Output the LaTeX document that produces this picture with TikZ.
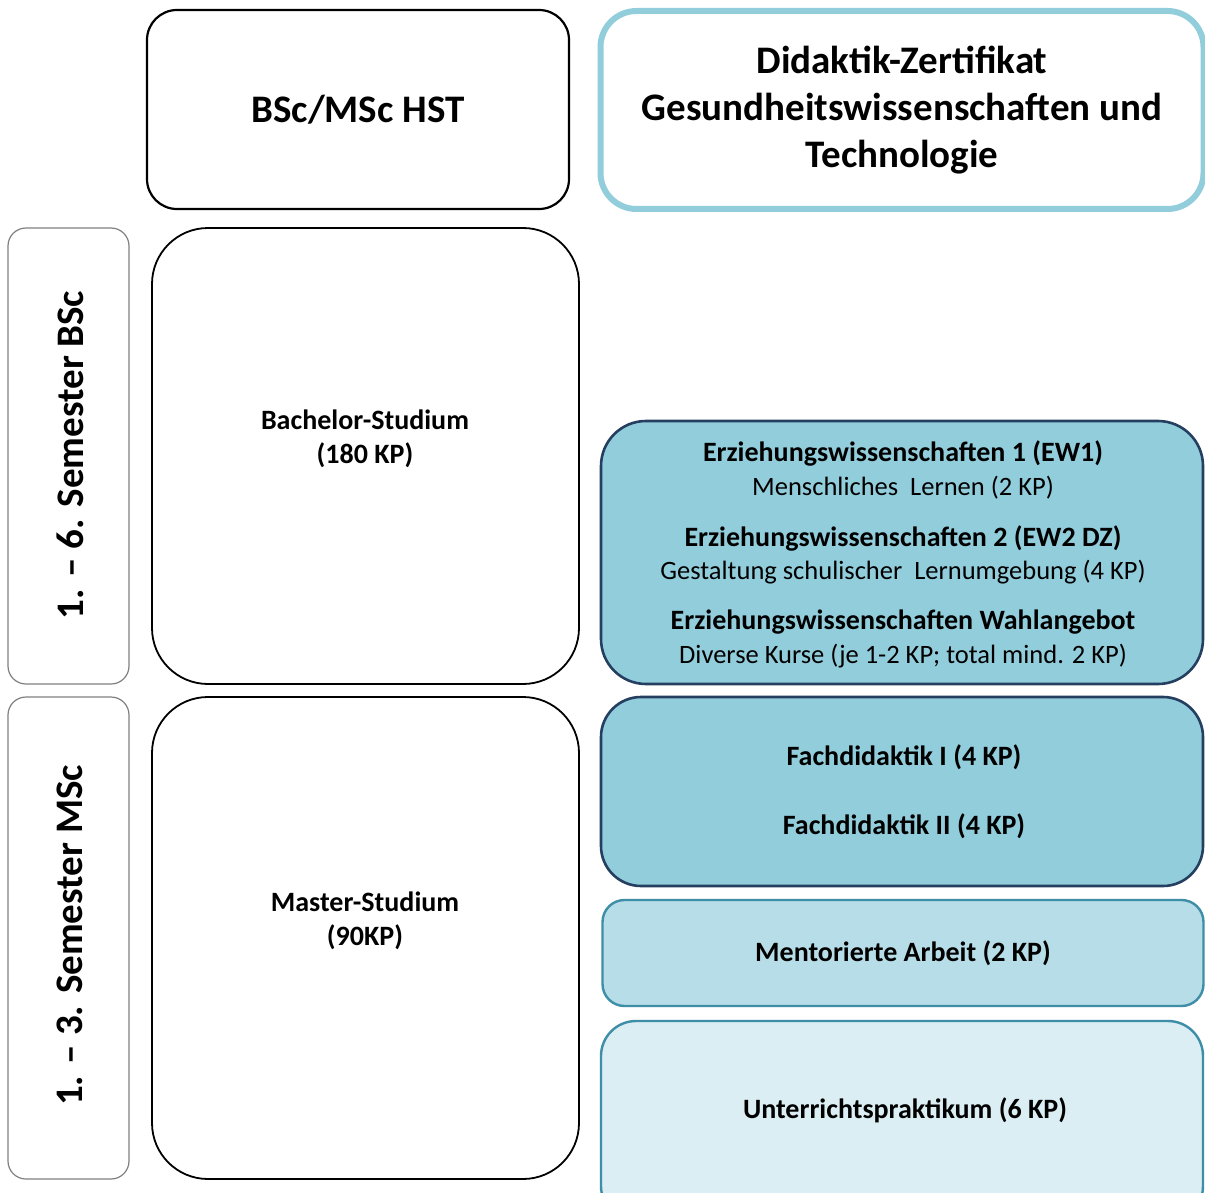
\documentclass[tikz,border=0pt]{standalone}
\usepackage{fontspec}
\setmainfont{Carlito}
\begin{document}
\begin{tikzpicture}[x=1pt,y=-1pt,
  box/.style={draw, rectangle, inner sep=0pt, outer sep=0pt, align=center},
  big/.style={font=\fontsize{39}{47}\selectfont\bfseries},
  mid/.style={font=\fontsize{28}{34}\selectfont\bfseries},
  reg/.style={font=\fontsize{26.5}{32}\selectfont},
  txt/.style={inner sep=0pt, align=center}
]
\definecolor{lightblue}{RGB}{146,205,220}
\definecolor{navy}{RGB}{36,63,96}
\definecolor{teal}{RGB}{62,142,168}
\definecolor{fillA}{RGB}{146,205,220}
\definecolor{fillB}{RGB}{183,222,232}
\definecolor{fillC}{RGB}{218,238,243}
\definecolor{semgray}{RGB}{128,128,128}
\useasboundingbox (0,0) rectangle (1205,1193);
\clip (0,0) rectangle (1205,1193);
\fill[white] (0,0) rectangle (1205,1193);

% header boxes
\node[box, line width=2.2pt, rounded corners=30pt, minimum width=422pt, minimum height=199pt, big] (hst) at (358,109.5) {BSc/MSc HST};
\node[box, draw=lightblue, line width=6pt, rounded corners=36pt, minimum width=603pt, minimum height=198pt] (dz) at (902,110) {};
\node[txt, big] (dzt) at (dz.center) {Didaktik-Zertifikat\\Gesundheitswissenschaften und\\Technologie};

% semester boxes
\node[box, draw=semgray, line width=1.2pt, rounded corners=18pt, minimum width=121pt, minimum height=456pt] (sem1) at (68.5,456) {};
\node[txt, big, rotate=90] (sem1t) at (70,455) {1. – 6. Semester BSc};
\node[box, draw=semgray, line width=1.2pt, rounded corners=18pt, minimum width=121pt, minimum height=482pt] (sem2) at (68.5,938) {};
\node[txt, big, rotate=90] (sem2t) at (70,935.5) {1. – 3. Semester MSc};

% study boxes
\node[box, line width=1.8pt, rounded corners=56pt, minimum width=427pt, minimum height=456pt] (bsc) at (365.5,456) {};
\node[txt, mid] (bsct) at (365,439) {Bachelor-Studium\\(180 KP)};
\node[box, line width=1.8pt, rounded corners=56pt, minimum width=427pt, minimum height=482pt] (msc) at (365.5,938) {};
\node[txt, mid] (msct) at (365,921) {Master-Studium\\(90KP)};

% EW box
\node[box, draw=navy, fill=fillA, line width=2.6pt, rounded corners=45pt, minimum width=602pt, minimum height=263pt] (ew) at (902,552.5) {};
\node[txt, mid] (ew1) at (903,453) {Erziehungswissenschaften 1 (EW1)};
\node[txt, reg] (ew1s) at (903,488) {Menschliches\ \ Lernen (2 KP)};
\node[txt, mid] (ew2) at (903,538) {Erziehungswissenschaften 2 (EW2 DZ)};
\node[txt, reg] (ew2s) at (903,572) {Gestaltung schulischer\ \ Lernumgebung (4 KP)};
\node[txt, mid] (ew3) at (903,622) {Erziehungswissenschaften Wahlangebot};
\node[txt, reg] (ew3s) at (903,656) {Diverse Kurse (je 1-2 KP; total mind. 2 KP)};

% Fachdidaktik
\node[box, draw=navy, fill=fillA, line width=2.6pt, rounded corners=40pt, minimum width=602pt, minimum height=189pt] (fd) at (902,791.5) {};
\node[txt, mid] (fd1) at (904,757) {Fachdidaktik I (4 KP)};
\node[txt, mid] (fd2) at (904,826) {Fachdidaktik II (4 KP)};

% Mentorierte Arbeit
\node[box, draw=teal, fill=fillB, line width=2.4pt, rounded corners=22pt, minimum width=601pt, minimum height=106pt, mid] (ma) at (903,953) {Mentorierte Arbeit (2 KP)};

% Unterrichtspraktikum
\node[box, draw=teal, fill=fillC, line width=2.4pt, rounded corners=35pt, minimum width=602pt, minimum height=200pt] (up) at (902,1121) {};
\node[txt, mid] (upt) at (905,1110) {Unterrichtspraktikum (6 KP)};
\end{tikzpicture}
\end{document}
